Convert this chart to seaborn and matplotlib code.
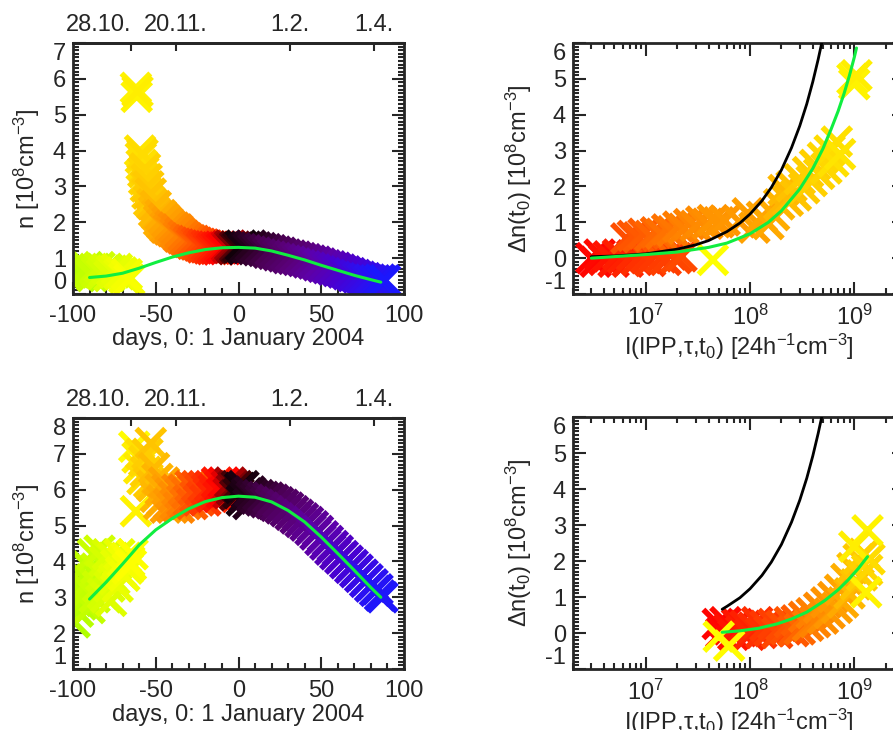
import numpy as np
import pandas as pd
import matplotlib
matplotlib.use('Agg')
import matplotlib.pyplot as plt
import seaborn as sns
from matplotlib.colors import LinearSegmentedColormap
from matplotlib.ticker import MultipleLocator, LogLocator, NullFormatter

# ---- data ----
# top left: density vs day
tl_day = [-99, -97.5, -96, -94.5, -93, -91.5, -90, -88.5, -87, -85.5, -84, -82.5, -81, -79.5,
          -78, -76.5, -75, -73.5, -72, -70.5, -69, -67.5, -66,
          -62, -61.5, -61, -59.5, -59, -58.5, -58, -57.5, -57, -56.5, -56, -55.5, -55, -54.5,
          -54, -53, -52, -51, -50, -49, -48, -47, -46, -45, -44, -43, -42, -41, -40, -39,
          -38, -37, -36, -35, -34, -33, -32, -31, -30, -29, -28, -27, -26, -25, -24, -23,
          -22, -21, -20, -19, -18, -17, -16, -15, -14, -13, -12, -11, -10, -9, -8, -7,
          -6, -5, -4, -3, -2, -1, 0, 1.5, 3, 4.5, 6, 7.5, 9, 10.5, 12, 13.5, 15, 16.5,
          18, 19.5, 21, 22.5, 24, 25.5, 27, 28.5, 30, 31.5, 33, 34.5, 36, 37.5, 39, 40.5,
          42, 43.5, 45, 46.5, 48, 49.5, 51, 52.5, 54, 55.5, 57, 58.5, 60, 61.5, 63, 64.5,
          66, 67.5, 69, 70.5, 72, 73.5, 75, 76.5, 78, 79.5, 81, 82.5, 84, 85.5, 87, 88.5]
tl_n = [0.6, 0.7, 0.5, 0.65, 0.55, 0.75, 0.6, 0.5, 0.7, 0.6, 0.75, 0.55, 0.65, 0.7,
        0.5, 0.65, 0.6, 0.7, 0.55, 0.6, 0.45, 0.55, 0.4,
        5.75, 5.5, 5.65, 4.0, 3.8, 3.6, 3.9, 3.4, 3.2, 3.5, 3.0, 3.2, 2.8, 3.0,
        2.6, 2.8, 2.5, 2.3, 2.45, 2.2, 2.05, 2.2, 1.95, 2.1, 1.85, 2.0, 1.8, 1.9, 1.75, 1.85,
        1.7, 1.8, 1.6, 1.7, 1.55, 1.62, 1.5, 1.55, 1.45, 1.5, 1.4, 1.48, 1.38, 1.43, 1.35, 1.4,
        1.3, 1.38, 1.3, 1.35, 1.27, 1.33, 1.25, 1.32, 1.26, 1.3, 1.24, 1.32, 1.27, 1.3, 1.25, 1.33,
        1.28, 1.35, 1.3, 1.25, 1.32, 1.28, 1.3, 1.35, 1.25, 1.32, 1.28, 1.35, 1.25, 1.3, 1.22, 1.28, 1.2, 1.25,
        1.15, 1.22, 1.12, 1.18, 1.08, 1.15, 1.05, 1.1, 1.0, 1.07, 0.98, 1.04, 0.95, 1.0, 0.92, 0.97,
        0.88, 0.93, 0.85, 0.9, 0.8, 0.85, 0.76, 0.8, 0.72, 0.77, 0.68, 0.73, 0.64, 0.68, 0.6, 0.63,
        0.55, 0.58, 0.5, 0.53, 0.46, 0.48, 0.42, 0.44, 0.38, 0.4, 0.35, 0.38, 0.33, 0.4, 0.35, 0.38]
tl_fit_day = [-90, -80, -70, -60, -50, -40, -30, -20, -10, 0, 10, 20, 30, 40, 50, 60, 70, 80, 86]
tl_fit_n = [0.46, 0.50, 0.58, 0.72, 0.88, 1.03, 1.15, 1.24, 1.29, 1.30, 1.28, 1.20, 1.08, 0.95, 0.80, 0.66, 0.52, 0.40, 0.33]

# bottom left
bl_day = [-99, -98, -97, -96, -95, -94, -93, -92, -91, -90, -89, -88, -87, -86, -85, -84,
          -83, -82, -81, -80, -79, -78, -77, -76, -75, -74, -73, -72, -71, -70, -69, -68,
          -67, -66, -65, -64,
          -63, -62, -61, -60, -59, -58, -57, -56, -55, -54, -53, -52, -51, -50, -49, -48,
          -47, -46, -45, -44, -43, -42, -41, -40, -39, -38, -37, -36, -35, -34, -33, -32,
          -31, -30, -29, -28, -27, -26, -25, -24, -23, -22, -21, -20, -19, -18, -17, -16,
          -15, -14, -13, -12, -11, -10, -9, -8, -7, -6, -5, -4, -3, -2, -1, 0, 1, 2, 3,
          4, 5, 6, 7, 8,
          9, 10.5, 12, 13.5, 15, 16.5, 18, 19.5, 21, 22.5, 24, 25.5, 27, 28.5, 30, 31.5,
          33, 34.5, 36, 37.5, 39, 40.5, 42, 43.5, 45, 46.5, 48, 49.5, 51, 52.5, 54, 55.5,
          57, 58.5, 60, 61.5, 63, 64.5, 66, 67.5, 69, 70.5, 72, 73.5, 75, 76.5, 78, 79.5,
          81, 82.5, 84, 85.5, 87]
bl_n = [2.3, 2.9, 2.6, 3.3, 2.8, 3.6, 3.0, 3.9, 3.2, 2.7, 3.5, 4.2, 3.0, 3.8, 3.3, 4.3,
        3.6, 3.1, 4.0, 3.0, 4.2, 3.3, 2.9, 4.1, 3.5, 3.9, 3.3, 4.2, 3.7, 4.0, 3.6, 4.1,
        3.8, 4.0, 3.9, 4.2,
        7.2, 5.4, 6.9, 6.6, 7.0, 6.3, 6.8, 6.5, 7.0, 6.2, 7.3, 6.1, 6.6, 5.8, 6.3, 5.6,
        6.0, 5.7, 6.2, 5.5, 6.0, 5.6, 5.9, 5.5, 5.8, 5.6, 6.0, 5.5, 5.9, 5.7, 6.0, 5.6,
        5.9, 5.7, 6.1, 5.6, 6.0, 5.8, 6.1, 5.7, 6.0, 5.8, 6.1, 5.7, 6.0, 5.9, 6.1, 5.8,
        6.0, 5.9, 6.2, 5.8, 6.1, 5.9, 6.2, 5.95, 6.1, 5.9, 6.2, 6.0, 6.1, 5.85, 6.1, 5.9, 6.05, 5.7, 6.1,
        5.8, 5.9, 5.6, 5.95, 5.8,
        5.85, 5.75, 5.85, 5.7, 5.8, 5.65, 5.78, 5.62, 5.72, 5.55, 5.65, 5.48, 5.58, 5.4, 5.5, 5.3,
        5.4, 5.2, 5.3, 5.1, 5.2, 5.0, 5.1, 4.88, 4.98, 4.75, 4.85, 4.6, 4.7, 4.47, 4.57, 4.33,
        4.43, 4.2, 4.3, 4.08, 4.15, 3.95, 4.02, 3.82, 3.9, 3.7, 3.77, 3.57, 3.63, 3.43, 3.5, 3.3,
        3.36, 3.18, 3.22, 3.05, 3.0]
bl_fit_day = [-90, -80, -70, -60, -50, -40, -30, -20, -10, 0, 10, 20, 30, 40, 50, 60, 70, 80, 86]
bl_fit_n = [2.95, 3.42, 3.93, 4.46, 4.88, 5.2, 5.47, 5.67, 5.78, 5.82, 5.79, 5.66, 5.42, 5.1, 4.68, 4.22, 3.75, 3.27, 3.0]

# top right: density change vs ionising flux
tr_I = [3.0e6, 3.3e6, 3.6e6, 4.0e6, 4.4e6, 4.9e6, 5.4e6, 6.0e6, 6.7e6, 7.4e6, 8.2e6, 9.1e6,
        1.0e7, 1.1e7, 1.25e7, 1.4e7, 1.55e7, 1.75e7, 1.95e7, 2.2e7,
        6.5e6, 7.5e6, 8.5e6, 9.5e6, 1.1e7, 1.25e7, 1.4e7, 1.6e7, 1.8e7, 2.05e7, 2.3e7, 2.6e7,
        3.0e7, 3.4e7, 3.9e7, 4.4e7, 5.0e7, 5.7e7,
        8.0e7, 9.5e7, 1.1e8, 1.3e8, 1.5e8, 1.7e8,
        1.9e8, 2.1e8, 2.3e8, 2.5e8, 2.75e8, 3.0e8, 3.3e8, 3.6e8, 3.9e8, 4.2e8, 4.6e8, 5.0e8,
        5.4e8, 5.8e8, 6.3e8, 6.8e8, 7.3e8,
        4.4e7, 9.6e8, 1.0e9, 1.05e9]
tr_dn = [0.0, -0.1, 0.1, -0.05, 0.05, -0.1, 0.1, 0.0, -0.1, 0.08, -0.05, 0.1,
         0.0, -0.08, 0.1, 0.02, -0.05, 0.1, 0.0, 0.05,
         0.55, 0.62, 0.58, 0.68, 0.62, 0.72, 0.68, 0.8, 0.75, 0.88, 0.82, 0.95,
         0.9, 1.02, 0.96, 1.06, 1.0, 1.05,
         1.0, 1.25, 0.85, 1.15, 0.95, 1.2,
         1.5, 1.9, 1.6, 2.0, 1.75, 2.2, 1.95, 2.4, 2.15, 2.6, 2.35, 2.8,
         2.5, 3.0, 2.7, 3.25, 2.9,
         -0.05, 5.0, 4.85, 5.1]
tr_day = [-8, -9, -10, -11, -12, -13, -14, -15, -16, -17, -18, -19,
          -19.5, -20, -20.5, -21, -21.5, -22, -23, -24,
          -25, -26, -27, -28, -29, -30, -31, -32, -33, -34, -35, -36,
          -37, -38, -39, -40, -40.5, -41,
          -42, -43, -44, -45, -46, -47,
          -49, -50, -51, -52, -53, -54, -54.5, -55, -55.5, -56, -56.5, -57,
          -57.5, -58, -58.5, -59, -59.5,
          -64, -62, -61.5, -61]
tr_fit_I = [3e6, 1e7, 2e7, 4e7, 6e7, 1e8, 1.5e8, 2e8, 3e8, 4e8, 5e8, 6e8, 7e8, 8e8, 9e8, 1e9, 1.05e9]
tr_fit_dn = [0.0, 0.1, 0.17, 0.3, 0.42, 0.68, 1.0, 1.32, 1.93, 2.5, 3.05, 3.6, 4.1, 4.6, 5.1, 5.6, 5.86]
tr_mod_I = [3e6, 5e6, 1e7, 2e7, 3e7, 4e7, 6e7, 8e7, 1e8, 1.3e8, 1.6e8, 2e8, 2.5e8, 3e8, 3.5e8, 4e8, 4.5e8, 5e8]
tr_mod_dn = [0.04, 0.06, 0.12, 0.25, 0.37, 0.49, 0.74, 0.98, 1.23, 1.6, 1.97, 2.46, 3.08, 3.69, 4.3, 4.92, 5.54, 6.15]

# bottom right
br_I = [4.9e7, 5.3e7, 5.8e7, 6.3e7, 6.9e7, 7.5e7, 8.2e7, 9.0e7, 9.8e7, 1.07e8, 1.17e8, 1.28e8,
        1.4e8, 1.53e8, 1.67e8, 1.82e8, 2.0e8, 2.2e8, 2.4e8, 2.6e8,
        2.8e8, 3.0e8, 3.3e8, 3.6e8, 3.9e8, 4.2e8, 4.6e8, 5.0e8, 5.4e8, 5.8e8, 6.3e8, 6.8e8,
        7.3e8, 7.8e8,
        8.4e8, 9.0e8, 9.6e8, 1.03e9, 1.1e9, 1.18e9, 1.25e9, 1.33e9, 1.4e9,
        5.0e7, 6.3e7, 1.34e9, 1.3e9, 1.0e9]
br_dn = [0.25, 0.0, 0.3, 0.1, -0.05, 0.25, 0.05, 0.2, -0.05, 0.15, 0.3, 0.0,
         0.2, 0.05, 0.25, 0.0, 0.2, 0.1, 0.3, 0.05,
         0.35, 0.1, 0.45, 0.2, 0.55, 0.3, 0.7, 0.4, 0.85, 0.55, 1.0, 0.7,
         1.2, 0.85,
         1.5, 1.1, 1.8, 1.35, 2.05, 1.6, 2.2, 1.75, 2.05,
         -0.1, -0.35, 2.85, 1.13, 2.4]
br_day = [-8, -9, -10, -11, -12, -13, -14, -15, -16, -17, -18, -19,
          -20, -21, -22, -23, -24, -25, -26, -27,
          -28, -30, -32, -34, -35, -36, -38, -39, -40, -41, -42, -43,
          -45, -46,
          -48, -50, -52, -53, -54, -55, -56, -57, -58,
          -64, -63, -62, -61.5, -61]
br_fit_I = [5.4e7, 8e7, 1.2e8, 1.8e8, 2.5e8, 3.5e8, 5.2e8, 7e8, 8.7e8, 1.1e9, 1.34e9]
br_fit_dn = [0.02, 0.06, 0.13, 0.25, 0.39, 0.58, 0.9, 1.2, 1.47, 1.8, 2.12]
br_mod_I = [5.4e7, 6e7, 8e7, 1e8, 1.3e8, 1.6e8, 2e8, 2.5e8, 3e8, 3.5e8, 4e8, 4.5e8, 5e8]
br_mod_dn = [0.66, 0.74, 0.98, 1.23, 1.6, 1.97, 2.46, 3.08, 3.69, 4.3, 4.92, 5.54, 6.15]

date_pos = [-65, -38, 31, 82]
date_lbl = ['28.10.', '20.11.', '1.2.', '1.4.']

# ---- style ----
sns.set_style('ticks')
plt.rcParams['font.family'] = ['Liberation Sans', 'DejaVu Sans']
plt.rcParams['mathtext.fontset'] = 'custom'
plt.rcParams['mathtext.rm'] = 'Liberation Sans'
plt.rcParams['mathtext.it'] = 'Liberation Sans:italic'
plt.rcParams['mathtext.default'] = 'regular'
plt.rcParams['axes.unicode_minus'] = False
plt.rcParams['font.size'] = 17
plt.rcParams['axes.linewidth'] = 2.0

stops = [(-100, '#b0ff00'), (-80, '#d8ff00'), (-64, '#ffff00'), (-57, '#ffd400'),
         (-46, '#ffa800'), (-35, '#ff8000'), (-22, '#ff4000'), (-8, '#ff0000'),
         (1, '#100008'), (8, '#2a0022'), (20, '#4a0052'), (35, '#5a0078'),
         (50, '#5e00a8'), (65, '#4a00d0'), (80, '#2c10f0'), (90, '#1818ff')]
dmin, dmax = -100, 90
cmap = LinearSegmentedColormap.from_list(
    'days', [((d - dmin) / (dmax - dmin), c) for d, c in stops])

GREEN = '#10ee40'
MS = 430
MLW = 4.0

fig = plt.figure(figsize=(8.93, 7.3), dpi=100)
W, H = 893, 730
ax_tl = fig.add_axes([73 / W, 1 - 294 / H, 331 / W, 251 / H])
ax_tr = fig.add_axes([573 / W, 1 - 294 / H, 331 / W, 251 / H])
ax_bl = fig.add_axes([73 / W, 1 - 669 / H, 331 / W, 251 / H])
ax_br = fig.add_axes([573 / W, 1 - 669 / H, 331 / W, 252 / H])


def scatter(ax, x, y, day):
    sns.scatterplot(x=x, y=y, hue=day, palette=cmap, hue_norm=(dmin, dmax),
                    marker='x', s=MS, linewidth=MLW, legend=False, ax=ax, zorder=2)


def common_ticks(ax):
    ax.yaxis.set_major_locator(MultipleLocator(1))
    ax.yaxis.set_minor_locator(MultipleLocator(0.1))
    ax.tick_params(which='major', length=9)
    ax.tick_params(which='minor', length=4)
    ax.tick_params(axis='x', pad=8)
    ax.tick_params(axis='y', pad=5)


def style_left(ax, ymin, ymax):
    ax.set_xlim(-100, 100)
    ax.set_ylim(ymin, ymax)
    ax.xaxis.set_major_locator(MultipleLocator(50))
    ax.xaxis.set_minor_locator(MultipleLocator(10))
    ax.tick_params(which='both', direction='in', top=False, right=True, width=1.5)
    common_ticks(ax)
    ax.set_xlabel('days, 0: 1 January 2004', labelpad=1)
    ax.set_ylabel('n [10$^8$cm$^{-3}$]', labelpad=8)
    top = ax.secondary_xaxis('top')
    top.set_xticks(date_pos, labels=date_lbl)
    top.tick_params(direction='in', length=6, width=1.5, pad=5)
    top.get_xticklabels()[0].set_ha('right')


def style_right(ax):
    ax.set_xscale('log')
    ax.set_xlim(2e6, 3e9)
    ax.set_ylim(-1, 6)
    ax.xaxis.set_major_locator(LogLocator(base=10))
    ax.xaxis.set_minor_locator(LogLocator(base=10, subs=np.arange(2, 10)))
    ax.xaxis.set_minor_formatter(NullFormatter())
    ax.tick_params(which='both', direction='in', top=True, right=True, width=1.5)
    common_ticks(ax)
    ax.set_xlabel('I(IPP,τ,t$_0$) [24h$^{-1}$cm$^{-3}$]', labelpad=1)
    ax.set_ylabel('Δn(t$_0$) [10$^8$cm$^{-3}$]', labelpad=8)


# top left
scatter(ax_tl, tl_day, tl_n, tl_day)
sns.lineplot(x=tl_fit_day, y=tl_fit_n, color=GREEN, lw=2.2, sort=False, ax=ax_tl, zorder=3)
style_left(ax_tl, 0, 7)

# bottom left
scatter(ax_bl, bl_day, bl_n, bl_day)
sns.lineplot(x=bl_fit_day, y=bl_fit_n, color=GREEN, lw=2.2, sort=False, ax=ax_bl, zorder=3)
style_left(ax_bl, 1, 8)

# top right
scatter(ax_tr, tr_I, tr_dn, tr_day)
sns.lineplot(x=tr_mod_I, y=tr_mod_dn, color='black', lw=2.0, sort=False, ax=ax_tr, zorder=3)
sns.lineplot(x=tr_fit_I, y=tr_fit_dn, color=GREEN, lw=2.2, sort=False, ax=ax_tr, zorder=3)
style_right(ax_tr)

# bottom right
scatter(ax_br, br_I, br_dn, br_day)
sns.lineplot(x=br_mod_I, y=br_mod_dn, color='black', lw=2.0, sort=False, ax=ax_br, zorder=3)
sns.lineplot(x=br_fit_I, y=br_fit_dn, color=GREEN, lw=2.2, sort=False, ax=ax_br, zorder=3)
style_right(ax_br)

# keep the lowest / highest y labels inside the frame, like the original
fig.canvas.draw()
for ax in (ax_tl, ax_tr, ax_bl, ax_br):
    lo, hi = ax.get_ylim()
    for tick in ax.yaxis.get_major_ticks():
        if abs(tick.get_loc() - lo) < 1e-6:
            tick.label1.set_va('bottom')
        elif abs(tick.get_loc() - hi) < 1e-6:
            tick.label1.set_va('top')

fig.savefig('out.png', dpi=100)
